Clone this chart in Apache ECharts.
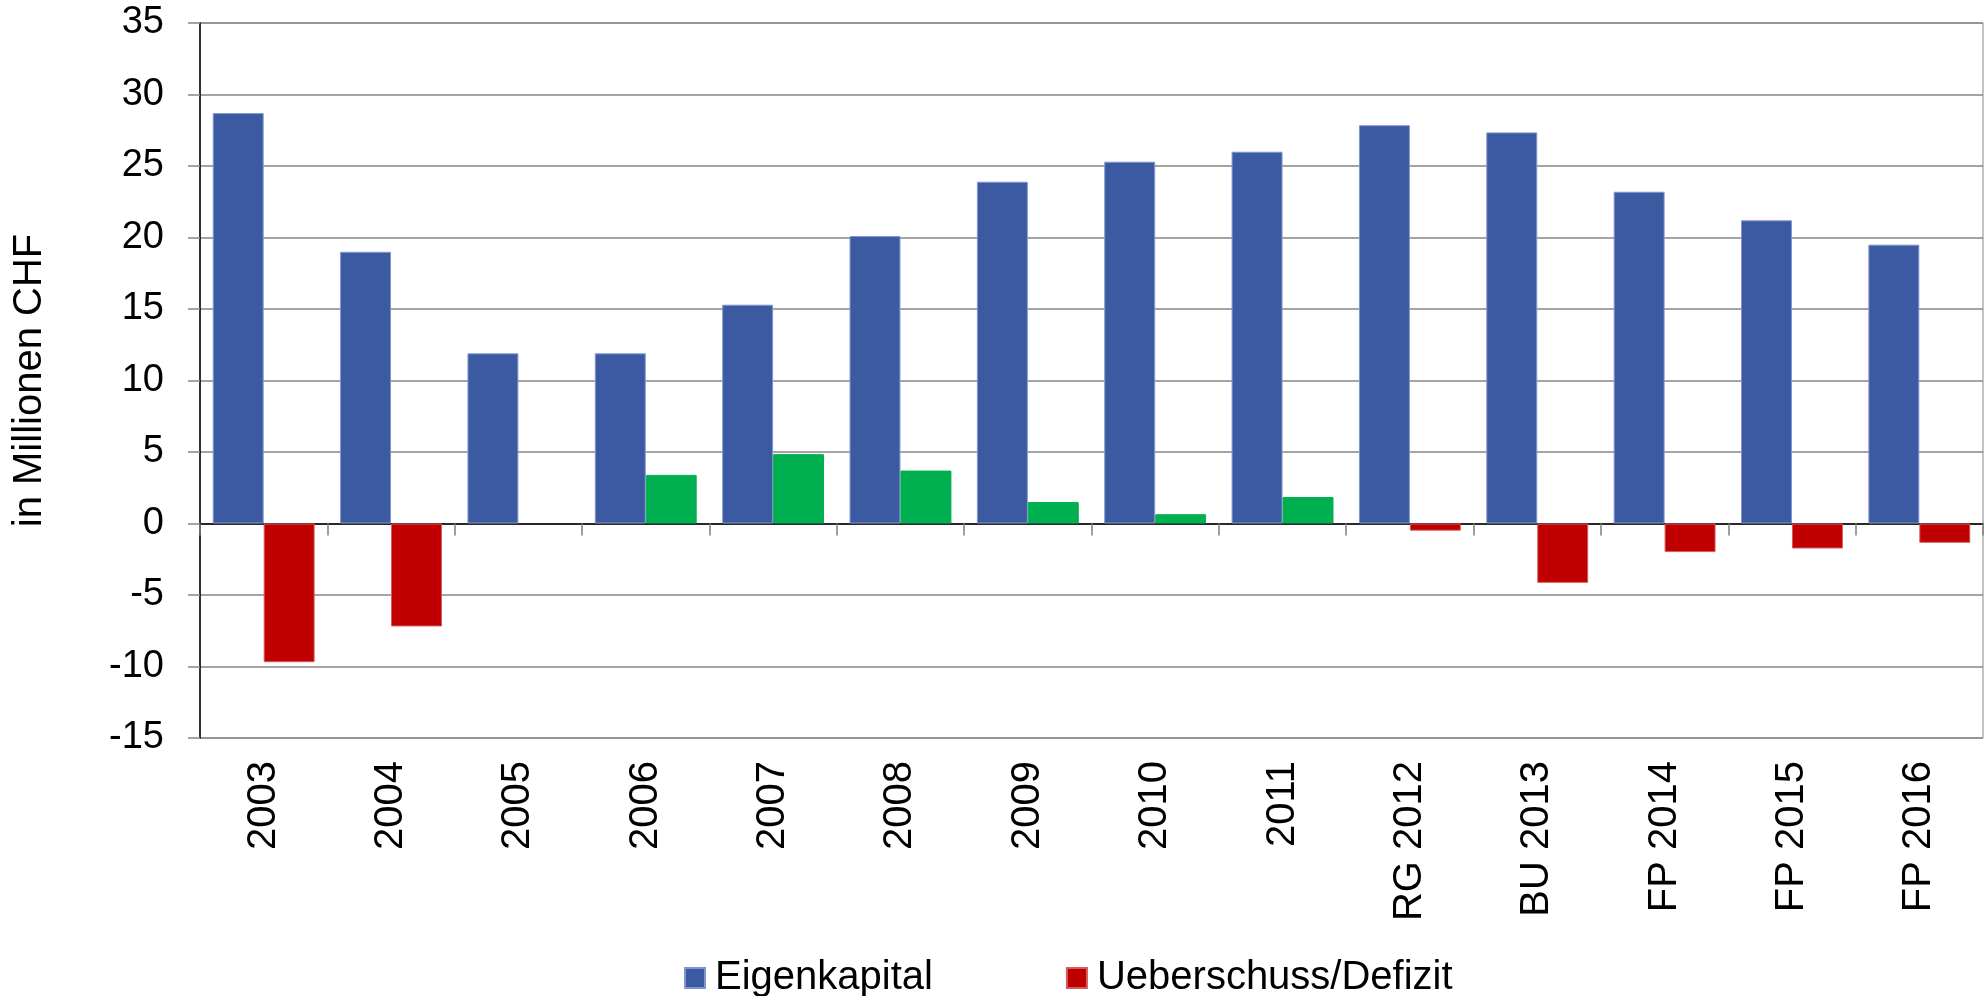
<!DOCTYPE html>
<html>
<head>
<meta charset="utf-8">
<title>Eigenkapital</title>
<script src="https://cdn.jsdelivr.net/npm/echarts@6/dist/echarts.min.js"></script>
<style>
  html, body { margin: 0; padding: 0; background: #fff; }
  #chart { width: 1986px; height: 996px; }
</style>
</head>
<body>
<div id="chart"></div>
<script>
// data
const categories = ['2003', '2004', '2005', '2006', '2007', '2008', '2009', '2010', '2011',
  'RG 2012', 'BU 2013', 'FP 2014', 'FP 2015', 'FP 2016'];
const eigenkapital = [28.7, 19.0, 11.9, 11.9, 15.3, 20.1, 23.9, 25.3, 26.0, 27.85, 27.35, 23.2, 21.2, 19.5];
const ueberschuss = [-9.7, -7.2, null, 3.4, 4.85, 3.7, 1.5, 0.65, 1.85, -0.5, -4.15, -2.0, -1.75, -1.35];
const yTicks = { min: -15, max: 35, interval: 5 };

const BLUE = '#3C5AA2';
const RED = '#C00000';
const GREEN = '#00B050';
const FONT = 'Liberation Sans, Arial, sans-serif';

const chart = echarts.init(document.getElementById('chart'));

const option = {
  animation: false,
  textStyle: { fontFamily: FONT },
  grid: {
    left: 200,
    right: 3,
    top: 23,
    bottom: 258,
    show: true,
    borderColor: '#868686',
    borderWidth: 1
  },
  legend: {
    left: 679,
    top: 953,
    itemWidth: 20,
    itemHeight: 20,
    itemGap: 133,
    icon: 'rect',
    textStyle: { fontSize: 40, color: '#000', fontFamily: FONT, padding: [0, 0, 0, 5] },
    data: ['Eigenkapital', 'Ueberschuss/Defizit']
  },
  xAxis: [
    {
      // line at zero with the category ticks
      type: 'category',
      data: categories,
      axisLine: { onZero: true, lineStyle: { color: '#000', width: 1.5 } },
      axisTick: { show: true, length: 12, lineStyle: { color: '#7f7f7f', width: 1.5 } },
      axisLabel: { show: false },
      splitLine: { show: false }
    },
    {
      // labels along the bottom of the plot
      type: 'category',
      data: categories,
      position: 'bottom',
      axisLine: { show: false, onZero: false },
      axisTick: { show: false },
      axisLabel: {
        rotate: 90,
        margin: 23,
        fontSize: 40,
        color: '#000',
        fontFamily: FONT
      },
      splitLine: { show: false }
    }
  ],
  yAxis: {
    type: 'value',
    min: yTicks.min,
    max: yTicks.max,
    interval: yTicks.interval,
    name: 'in Millionen CHF',
    nameLocation: 'middle',
    nameGap: 150,
    nameRotate: 90,
    nameTextStyle: { fontSize: 40, color: '#000', fontFamily: FONT },
    axisLine: { show: true, lineStyle: { color: '#000', width: 1.5 } },
    axisTick: { show: true, length: 12, lineStyle: { color: '#868686', width: 1.5 } },
    axisLabel: { fontSize: 38, color: '#000', margin: 36, fontFamily: FONT },
    splitLine: { show: true, lineStyle: { color: '#868686', width: 1.5 } }
  },
  series: [
    {
      name: 'Eigenkapital',
      type: 'bar',
      xAxisIndex: 0,
      data: eigenkapital,
      barGap: '0%',
      barCategoryGap: '20%',
      itemStyle: { color: BLUE, borderColor: '#8197cc', borderWidth: 1 }
    },
    {
      name: 'Ueberschuss/Defizit',
      type: 'bar',
      xAxisIndex: 0,
      data: ueberschuss.map(v => (v !== null && v > 0) ? { value: v, itemStyle: { color: GREEN, borderColor: GREEN } } : v),
      itemStyle: { color: RED, borderColor: '#d65c5c', borderWidth: 1 }
    }
  ]
};

chart.setOption(option);
</script>
</body>
</html>
